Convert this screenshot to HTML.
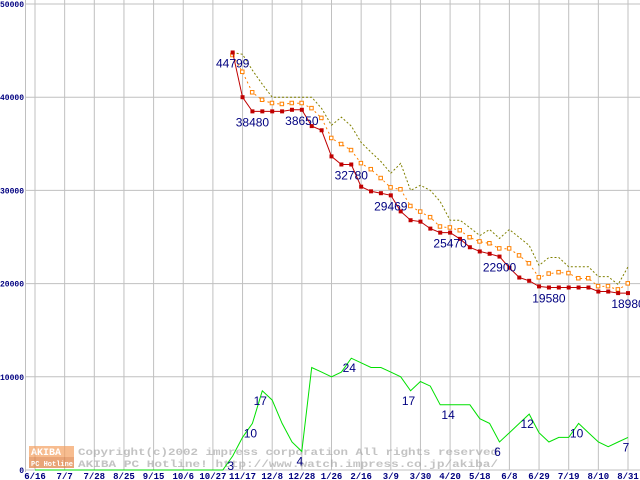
<!DOCTYPE html>
<html><head><meta charset="utf-8"><style>
body{margin:0;background:#fff;width:640px;height:480px;overflow:hidden}
svg{display:block}
</style></head><body>
<svg id="chart" width="640" height="480" xmlns="http://www.w3.org/2000/svg" font-family="Liberation Sans, sans-serif"></svg>
<script>
const xLabels=["6/16","7/7","7/28","8/25","9/15","10/6","10/27","11/17","12/8","12/28","1/26","2/16","3/9","3/30","4/20","5/18","6/8","6/29","7/19","8/10","8/31"];
const yTicks=[0,10000,20000,30000,40000,50000];
const startIdx=20;
const minPrice=[44799,40000,38480,38480,38480,38480,38650,38650,36900,36450,33650,32780,32780,30400,29900,29700,29469,27750,26800,26650,25900,25470,25470,24800,23900,23450,23200,22900,21700,20650,20300,19700,19580,19580,19580,19580,19580,19150,19150,18980,18980];
const avgPrice=[44500,42700,40500,39700,39350,39250,39350,39350,38800,37750,35600,34950,34300,32900,32250,31300,30300,30100,28300,27700,27100,26100,26000,25700,24950,24500,24300,23750,23750,23000,22150,20650,21050,21200,21100,20550,20550,19700,19700,19350,20000];
const maxPrice=[44800,44600,42900,41400,40000,40000,40000,40000,40000,38800,37000,37850,36900,35150,34100,33100,31850,32900,30000,30550,30000,28800,26800,26800,26000,25150,25800,24850,25800,24950,24100,21950,22800,22800,21800,21800,21800,20750,20750,19900,21800];
const shopCount=[0,0,0,0,0,0,0,0,0,0,0,0,0,0,0,0,0,0,0,0,3,7,10,17,15,10,6,4,22,21,20,21,24,23,22,22,21,20,17,19,18,14,14,14,14,11,10,6,8,10,12,8,6,7,7,10,8,6,5,6,7];
const priceLabelIdx=[20,22,27,32,36,42,47,52,60];
const countLabelIdx=[20,22,23,27,32,38,42,47,50,55,60];
const countScale=500;

const svg=document.getElementById('chart');
const NS='http://www.w3.org/2000/svg';
const X=i=>35+i*(593/60);
const Y=v=>470-v*0.00932;
function mk(tag,attrs,parent){const e=document.createElementNS(NS,tag);for(const k in attrs)e.setAttribute(k,attrs[k]);(parent||svg).appendChild(e);return e;}

const grid=mk('g',{});


yTicks.forEach(t=>{
  const l=mk('line',{x1:25,x2:640,y1:Y(t),y2:Y(t),stroke:'#c0c0c0','stroke-width':1},grid);
  
  
  const s=String(t);
  const attrs={x:24,y:Y(t)+3,'text-anchor':'end','font-size':8,'font-weight':'bold',fill:'#000080','font-family':'Liberation Mono, monospace'};
  if(s.length>1){attrs.x=0;attrs['text-anchor']='start';attrs.textLength=24;attrs.lengthAdjust='spacingAndGlyphs';}
  const tx=mk('text',attrs);
  tx.textContent=s;
  
  
});
xLabels.forEach((lab,k)=>{
  const x=X(k*3);
  const l=mk('line',{x1:x,x2:x,y1:0,y2:470,stroke:'#c0c0c0','stroke-width':1},grid);
  
  
  const tx=mk('text',{x:x,y:479,'text-anchor':'middle','font-size':9,'font-weight':'bold',fill:'#000080','font-family':'Liberation Mono, monospace'});
  tx.textContent=lab;
  
  
});
const ax=mk('line',{x1:25.5,x2:25.5,y1:0,y2:472,stroke:'#c0c0c0'});



// watermark
const wm=mk('g',{opacity:0.7});


mk('rect',{x:29,y:446,width:45,height:11,fill:'#f5a060'},wm);
mk('rect',{x:29,y:457,width:45,height:11,fill:'#e08040'},wm);
const w1=mk('text',{x:31,y:455,'font-size':10,'font-weight':'bold',fill:'#fff','font-family':'Liberation Mono, monospace'},wm);w1.textContent='AKIBA';
const w4=mk('text',{x:31,y:466,'font-size':7,'font-weight':'bold',fill:'#fff','font-family':'Liberation Mono, monospace'},wm);w4.textContent='PC Hotline!';
const w2=mk('text',{x:78,y:455,'font-size':10,'font-weight':'bold',fill:'#aaa','font-family':'Liberation Mono, monospace',textLength:420,lengthAdjust:'spacingAndGlyphs'},wm);w2.textContent='Copyright(c)2002 impress corporation All rights reserved';
const w3=mk('text',{x:78,y:467,'font-size':10,'font-weight':'bold',fill:'#aaa','font-family':'Liberation Mono, monospace',textLength:420,lengthAdjust:'spacingAndGlyphs'},wm);w3.textContent='AKIBA PC Hotline!  http://www.watch.impress.co.jp/akiba/';

function series(vals,off,color,dash,name,marker,filled){
  const pts=vals.map((v,j)=>X(j+off).toFixed(1)+','+Y(v).toFixed(1)).join(' ');
  const p=mk('polyline',{points:pts,fill:'none',stroke:color,'stroke-width':1,'stroke-dasharray':dash||''});
  
  
  if(marker){
    vals.forEach((v,j)=>{
      const r=mk('rect',{x:X(j+off)-2,y:Y(v)-2,width:filled?4:3.5,height:filled?4:3.5,fill:filled?color:'#fff',stroke:color,'stroke-width':filled?0:1});
      
      
    });
  }
}
series(maxPrice,startIdx,'#808000','2,2','max-price-line',false);
series(avgPrice,startIdx,'#ff8000','2,3','avg-price-line',true,false);
series(minPrice,startIdx,'#c00000','','min-price-line',true,true);
series(shopCount.map(c=>c*countScale),0,'#00e000','','shop-count-line',false);

priceLabelIdx.forEach(i=>{
  const v=minPrice[i-startIdx];
  const t=mk('text',{x:X(i),y:Y(v)+15,'text-anchor':'middle','font-size':12,fill:'#000080'});
  t.textContent=v;
  
  
});
countLabelIdx.forEach(i=>{
  const c=shopCount[i];
  const t=mk('text',{x:X(i)-2,y:Y(c*countScale)+14,'text-anchor':'middle','font-size':12,fill:'#000080'});
  t.textContent=c;
  
  
});
</script>
</body></html>
